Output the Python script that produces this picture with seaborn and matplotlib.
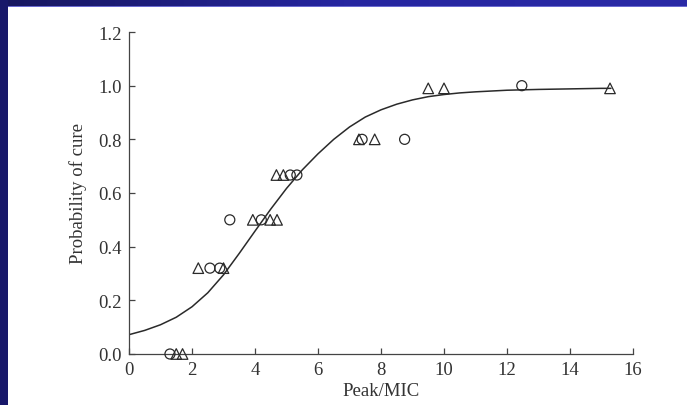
import matplotlib
matplotlib.use("Agg")
import matplotlib.pyplot as plt
import seaborn as sns
import numpy as np
import pandas as pd
from matplotlib.patches import Rectangle

# Data
circle_x = [1.3, 2.57, 2.88, 3.2, 4.2, 5.12, 5.33, 7.4, 8.75, 12.47]
circle_y = [0.0, 0.32, 0.32, 0.5, 0.5, 0.667, 0.667, 0.8, 0.8, 1.0]

triangle_x = [1.5, 1.7, 2.2, 3.0, 3.93, 4.48, 4.7, 4.68, 4.9, 7.3, 7.8, 9.5, 10.0, 15.27]
triangle_y = [0.0, 0.0, 0.32, 0.32, 0.5, 0.5, 0.5, 0.667, 0.667, 0.8, 0.8, 0.99, 0.99, 0.99]

# fitted curve, points
curve_x = [0, 0.5, 1, 1.5, 2, 2.5, 3, 3.5, 4, 4.5, 5, 5.5, 6, 6.5, 7, 7.5,
           8, 8.5, 9, 9.5, 10, 10.5, 11, 12, 13, 14, 15, 15.3]
curve_y = [0.072, 0.088, 0.109, 0.137, 0.176, 0.228, 0.295, 0.375, 0.458, 0.54,
           0.617, 0.686, 0.746, 0.80, 0.846, 0.883, 0.91, 0.931, 0.947, 0.959,
           0.967, 0.973, 0.977, 0.983, 0.986, 0.988, 0.99, 0.99]

x_ticks = [0, 2, 4, 6, 8, 10, 12, 14, 16]
y_ticks = [0.0, 0.2, 0.4, 0.6, 0.8, 1.0, 1.2]

circles = pd.DataFrame({"x": circle_x, "y": circle_y})
triangles = pd.DataFrame({"x": triangle_x, "y": triangle_y})
curve = pd.DataFrame({"x": curve_x, "y": curve_y})

sns.set_style("ticks")
plt.rcParams["font.family"] = ["Liberation Serif", "DejaVu Serif"]

ink = "#2a2a2a"

fig = plt.figure(figsize=(6.87, 4.06), dpi=100)
fig.patch.set_facecolor("white")

# slide frame: dark blue band on the top and left
W, H = 687.0, 406.0
band = fig.add_axes([0, 1 - 7 / H, 1, 7 / H])
grad = np.linspace(0, 1, 256).reshape(1, -1)
band.imshow(grad, aspect="auto", cmap=matplotlib.colors.LinearSegmentedColormap.from_list(
    "frame", ["#17175e", "#2626a0", "#2a2aa6"]), extent=[0, 1, 0, 1])
band.axis("off")
fig.add_artist(Rectangle((0, 0), 8 / W, 1, transform=fig.transFigure,
                         facecolor="#18186a", edgecolor="none", zorder=5))
fig.add_artist(Rectangle((8 / W, 1 - 8 / H), 1, 1.2 / H, transform=fig.transFigure,
                         facecolor="#6a6ad0", edgecolor="none", zorder=5))

ax = fig.add_axes([129 / W, 1 - 355 / H, 504 / W, 322 / H])

sns.lineplot(data=curve, x="x", y="y", ax=ax, color=ink, linewidth=1.1)
sns.scatterplot(data=circles, x="x", y="y", ax=ax, marker="o", s=52,
                facecolor="none", edgecolor=ink, linewidth=0.9, clip_on=False, zorder=3)
sns.scatterplot(data=triangles, x="x", y="y", ax=ax, marker="^", s=58,
                facecolor="none", edgecolor=ink, linewidth=0.9, clip_on=False, zorder=3)

ax.set_xlim(0, 16)
ax.set_ylim(0, 1.2)
ax.set_xticks(x_ticks)
ax.set_yticks(y_ticks)
ax.set_xticklabels([str(t) for t in x_ticks])
ax.set_yticklabels([f"{t:.1f}" for t in y_ticks])
sns.despine(ax=ax)
for s in ["left", "bottom"]:
    ax.spines[s].set_color("#444444")
    ax.spines[s].set_linewidth(0.9)
ax.tick_params(direction="in", length=4, width=0.9, color="#444444",
               labelsize=13.5, labelcolor="#333333", pad=5)
ax.set_xlabel("Peak/MIC", fontsize=13.5, color="#333333", labelpad=3)
ax.set_ylabel("Probability of cure", fontsize=13.5, color="#333333", labelpad=8)
ax.set_facecolor("white")

fig.savefig("out.png", dpi=100, facecolor=fig.get_facecolor())
